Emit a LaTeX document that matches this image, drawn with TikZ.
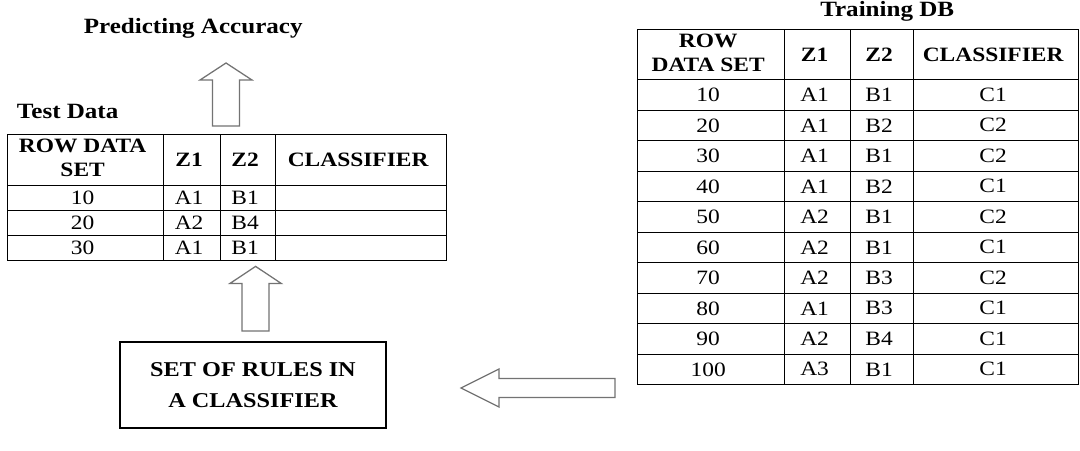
\documentclass[tikz,border=0pt]{standalone}
\usepackage{fontspec}
\setmainfont[FakeStretch=1.15]{Liberation Serif}
\usepackage{tikz}
\usetikzlibrary{matrix,positioning}

\newcommand\twoline[2]{\begin{tabular}{@{}c@{}}#1\\#2\end{tabular}}

\begin{document}
\begin{tikzpicture}[
    every node/.style={align=center},
    title/.style={font=\fontsize{15.5}{18}\selectfont\bfseries},
    tbl/.style={matrix of nodes, nodes in empty cells, inner sep=0pt, outer sep=0pt,
      column sep=-0.8pt, row sep=-0.8pt,
      nodes={draw, anchor=center, line width=0.8pt, inner sep=0pt,
        font=\fontsize{14.5}{17}\selectfont}},
    hdr/.style={font=\fontsize{14.5}{17}\selectfont\bfseries},
    rulebox/.style={draw, line width=0.8pt, minimum width=6.65cm, minimum height=2.15cm,
      font=\fontsize{15}{22.5}\selectfont\bfseries},
    hollow/.style={draw=black!55, line width=0.9pt, fill=white, line join=miter}
  ]
    \useasboundingbox (0,0) rectangle (27,-11.25);

    % Test data table
    \matrix (test) [tbl, anchor=north west,
      column 1/.style={nodes={minimum width=3.9cm}},
      column 2/.style={nodes={minimum width=1.425cm}},
      column 3/.style={nodes={minimum width=1.375cm}},
      column 4/.style={nodes={minimum width=4.275cm}},
      nodes={minimum height=0.625cm},
      row 1/.style={nodes={minimum height=1.275cm}}] at (0.175,-3.35) {
      |[hdr]| \twoline{ROW DATA}{SET} & |[hdr]| Z1 & |[hdr]| Z2 & |[hdr]| CLASSIFIER \\
      10 & A1 & B1 & \\
      20 & A2 & B4 & \\
      30 & A1 & B1 & \\
    };

    % Training table
    \matrix (train) [tbl, anchor=north west,
      column 1/.style={nodes={minimum width=3.675cm}},
      column 2/.style={nodes={minimum width=1.65cm}},
      column 3/.style={nodes={minimum width=1.575cm}},
      column 4/.style={nodes={minimum width=4.125cm}},
      nodes={minimum height=0.7625cm},
      row 1/.style={nodes={minimum height=1.25cm}}] at (15.925,-0.725) {
      |[hdr]| \twoline{ROW}{DATA SET} & |[hdr]| Z1 & |[hdr]| Z2 & |[hdr]| CLASSIFIER \\
      10 & A1 & B1 & C1 \\
      20 & A1 & B2 & C2 \\
      30 & A1 & B1 & C2 \\
      40 & A1 & B2 & C1 \\
      50 & A2 & B1 & C2 \\
      60 & A2 & B1 & C1 \\
      70 & A2 & B3 & C2 \\
      80 & A1 & B3 & C1 \\
      90 & A2 & B4 & C1 \\
      100 & A3 & B1 & C1 \\
    };

    % Titles
    \node[title] (accuracy) at (4.83,-0.7) {Predicting Accuracy};
    \node[title, anchor=base west] (testlbl) at (0.3,-2.95) {Test Data};
    \node[title, anchor=base] (trainlbl) at (22.18,-0.4) {Training DB};

    % Rules box
    \node[rulebox] (rules) at (6.325,-9.625) {SET OF RULES IN\\A CLASSIFIER};

    % Block arrows
    \coordinate (upA) at (5.65,-3.15);
    \coordinate (upB) at (6.39,-8.275);
    \coordinate (leftC) at (11.525,-9.7);
    \draw[hollow] (upA) ++(-0.3375,0) -- ++(0,1.15) -- ++(-0.3125,0) -- ++(0.65,0.425)
      -- ++(0.65,-0.425) -- ++(-0.3125,0) -- ++(0,-1.15) -- cycle;
    \draw[hollow] (upB) ++(-0.3375,0) -- ++(0,1.19) -- ++(-0.3025,0) -- ++(0.64,0.425)
      -- ++(0.64,-0.425) -- ++(-0.3025,0) -- ++(0,-1.19) -- cycle;
    \draw[hollow] (leftC) -- ++(0.95,0.475) -- ++(0,-0.2375) -- ++(2.9,0) -- ++(0,-0.475)
      -- ++(-2.9,0) -- ++(0,-0.2375) -- cycle;

  \end{tikzpicture}
\end{document}
